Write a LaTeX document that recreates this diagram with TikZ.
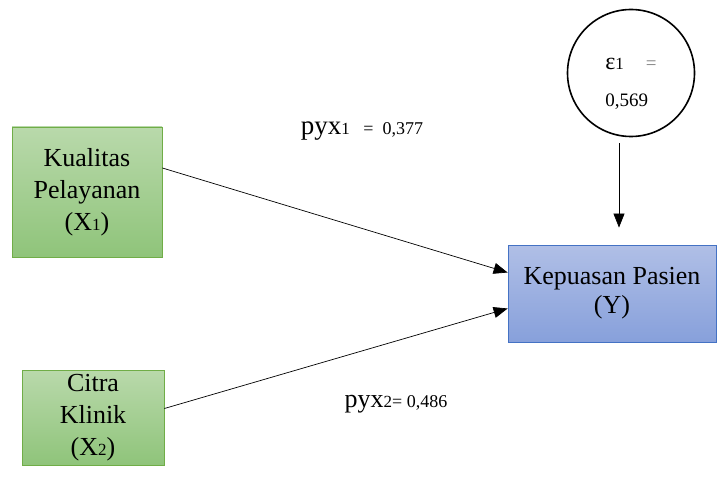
\documentclass[tikz,border=0pt]{standalone}
\usepackage{fontspec}
\setmainfont{Liberation Serif}
\usetikzlibrary{arrows.meta}
\definecolor{greentop}{HTML}{B9D9AB}
\definecolor{greenbot}{HTML}{8FC47A}
\definecolor{greenline}{HTML}{70AD47}
\definecolor{bluetop}{HTML}{B0BFE6}
\definecolor{bluebot}{HTML}{87A0DB}
\definecolor{blueline}{HTML}{4472C4}

\newcommand{\smallsub}[1]{{\fontsize{17}{17}\selectfont #1}}

\begin{document}
\begin{tikzpicture}[x=1pt, y=-1pt,
  varbox/.style={draw=greenline, line width=0.8pt, top color=greentop, bottom color=greenbot,
    align=center, inner sep=0pt, font=\fontsize{26}{32}\selectfont},
  ybox/.style={draw=blueline, line width=0.8pt, top color=bluetop, bottom color=bluebot,
    align=center, inner sep=0pt, font=\fontsize{26}{29}\selectfont},
  arr/.style={line width=0.7pt, -{Triangle[length=14pt, width=11pt]}}]
  \useasboundingbox (0,0) rectangle (717,489);

  % variables
  \node[varbox, minimum width=150, minimum height=130] (kp) at (87,192)
    {Kualitas\\Pelayanan\\(X\smallsub{1})};
  \node[varbox, minimum width=142, minimum height=95] (ck) at (93,417.5)
    {Citra\\Klinik\\(X\smallsub{2})};
  \node[ybox, minimum width=208, minimum height=97] (kep) at (612,293.5)
    {Kepuasan Pasien\\(Y)};

  % error term
  \node[circle, draw, line width=1.6pt, minimum size=127, inner sep=0pt, align=left,
    font=\fontsize{19}{37}\selectfont] (eps) at (631,73)
    {\rule{0pt}{32pt}{\fontsize{24}{24}\selectfont ε}\smallsub{1}\hspace{22pt}{\color{gray}=}\\0,569};

  % paths
  \draw[arr] ([yshift=24pt]kp.east) -- ([yshift=21pt]kep.west);
  \draw[arr] ([yshift=9pt]ck.east) -- ([yshift=-15pt]kep.west);
  \draw[arr] ([xshift=-12pt, yshift=-6pt]eps.south) -- ([xshift=7pt, yshift=17pt]kep.north);

  % coefficients
  \node[font=\fontsize{27}{27}\selectfont] (p1) at (362,131)
    {pyx\smallsub{1}\ \ {\fontsize{18}{18}\selectfont =\ \ 0,377}};
  \node[font=\fontsize{26}{26}\selectfont] (p2) at (396,404)
    {pyx\smallsub{2}{\fontsize{18}{18}\selectfont = 0,486}};
\end{tikzpicture}
\end{document}
